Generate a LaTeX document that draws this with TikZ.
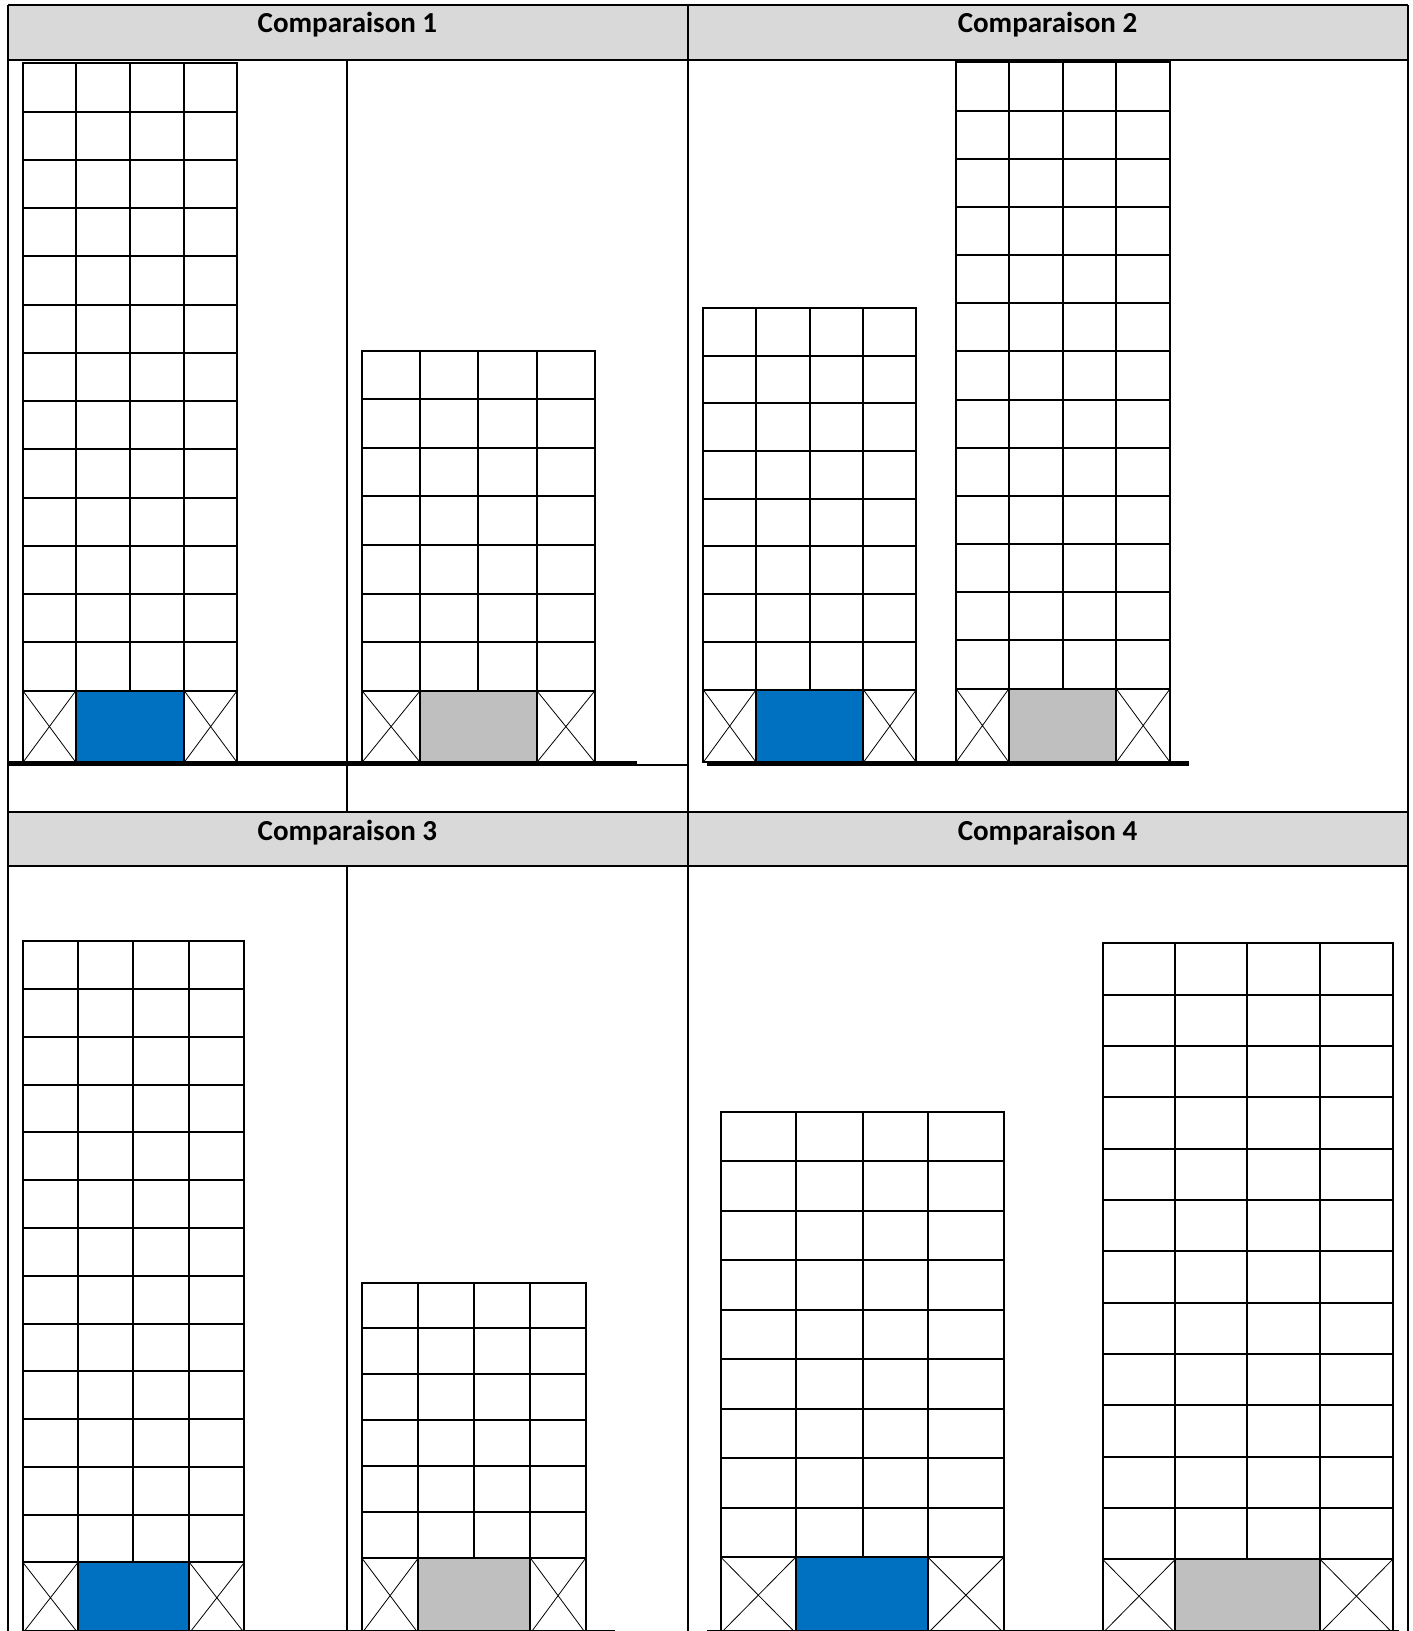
\documentclass[tikz,border=0pt]{standalone}
\usepackage{fontspec}
\setmainfont{Carlito}
\usetikzlibrary{positioning}
\definecolor{headgrey}{HTML}{D9D9D9}
\definecolor{shopblue}{HTML}{0070C0}
\definecolor{shopgrey}{HTML}{BFBFBF}
\tikzset{
    tableline/.style={line width=2pt},
    gridline/.style={line width=2pt, line cap=rect},
    crossline/.style={line width=0.8pt},
    groundline/.style={line width=4.5pt},
    headtext/.style={anchor=base, font=\fontsize{29}{35}\selectfont\bfseries}
}

\begin{document}
\begin{tikzpicture}[x=1.0405pt, y=-1.0405pt]
    \useasboundingbox (0,0) rectangle (1358,1568);
    \clip (0,0) rectangle (1358,1568);

    % Header rows
    \fill[headgrey] (8,5) rectangle (1354,58);
    \fill[headgrey] (8,781) rectangle (1354,833);
    \node[headtext] (head1) at (334,31.5) {Comparaison 1};
    \node[headtext] (head2) at (1007,31.5) {Comparaison 2};
    \node[headtext] (head3) at (334,808) {Comparaison 3};
    \node[headtext] (head4) at (1007,808) {Comparaison 4};

    % Table
    \foreach \yy in {5,58,781,833} {
        \draw[tableline] (8,\yy) -- (1354,\yy);
    }
    \foreach \xx in {8,661,1354} {
        \draw[tableline] (\xx,5) -- (\xx,1580);
    }
    \draw[tableline] (334,58) -- (334,781);
    \draw[tableline] (334,833) -- (334,1580);
    \draw[tableline] (612,735) -- (661,735);

    % Buildings: x of the 5 walls, top, ground floor, bottom, floors, shop colour
    \foreach \xa/\xb/\xc/\xd/\xe/\ytop/\ygnd/\ybot/\nfl/\shop in {
            22/73/125/177/228/61/664/733/13/shopblue,
            348/404/460/516/572/337/664/733/7/shopgrey,
            676/727/779/830/881/296/663/733/8/shopblue,
            919/970/1022/1073/1125/60/662/733/13/shopgrey,
            22/75/128/182/235/905/1502/1570/13/shopblue,
            348/402/456/510/563/1233/1498/1570/6/shopgrey,
            693/765/830/892/965/1069/1497/1570/9/shopblue,
            1060/1130/1199/1269/1339/907/1499/1570/12/shopgrey} {
        \pgfmathsetmacro\hfl{(\ygnd-\ytop)/\nfl}
        \fill[fill=\shop] (\xb,\ygnd) rectangle (\xd,\ybot);
        \foreach \k in {1,...,\nfl} {
            \draw[gridline] (\xa,\ytop+\k*\hfl) -- (\xe,\ytop+\k*\hfl);
        }
        \draw[gridline] (\xb,\ytop) -- (\xb,\ybot);
        \draw[gridline] (\xc,\ytop) -- (\xc,\ygnd);
        \draw[gridline] (\xd,\ytop) -- (\xd,\ybot);
        \draw[gridline] (\xa,\ytop) rectangle (\xe,\ybot);
        \draw[crossline] (\xa,\ygnd) -- (\xb,\ybot) (\xa,\ybot) -- (\xb,\ygnd);
        \draw[crossline] (\xd,\ygnd) -- (\xe,\ybot) (\xd,\ybot) -- (\xe,\ygnd);
    }

    % Ground
    \draw[groundline] (8,734) -- (612,734);
    \draw[groundline] (680,734) -- (1143,734);
    \draw[groundline] (22,1569.5) -- (591,1569.5);
    \draw[groundline] (680,1569.5) -- (1345,1569.5);
\end{tikzpicture}
\end{document}
